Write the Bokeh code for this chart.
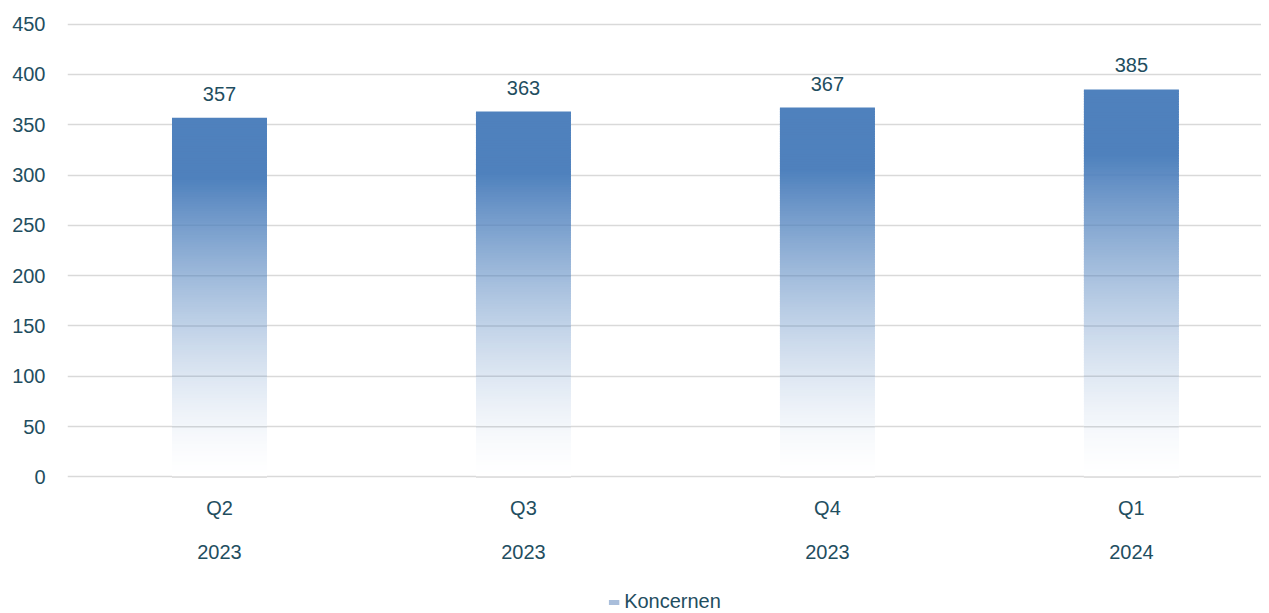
import numpy as np
from bokeh.plotting import figure
from bokeh.layouts import column
from bokeh.models import Range1d, LinearAxis, FixedTicker, Legend, LegendItem, ColumnDataSource
from bokeh.embed import file_html
from bokeh.resources import INLINE
from bokeh.core.properties import value

quarters = ["Q2", "Q3", "Q4", "Q1"]
years = ["2023", "2023", "2023", "2024"]
values = [357, 363, 367, 385]
series_name = "Koncernen"
y_ticks = list(range(0, 451, 50))

FONT = "Liberation Sans"
TXT = "#1f4e5f"
BLUE = (79, 129, 189)
GRID = (217, 217, 217)
FS = "20px"


def blend(c, bg, a):
    return "#%02x%02x%02x" % tuple(int(round(a * ci + (1 - a) * bi)) for ci, bi in zip(c, bg))


def opacity(t):
    return min(1.0, max(0.0, t) / 0.83) ** 1.5


p = figure(width=1261, height=570, output_backend="svg", toolbar_location=None,
           x_range=Range1d(-0.5, 3.428), y_range=Range1d(-1.5, 451.5),
           min_border_left=67, min_border_right=0, min_border_top=22, min_border_bottom=92,
           outline_line_color=None, background_fill_color="white", border_fill_color="white",
           x_axis_location=None)

p.xgrid.grid_line_color = None
p.ygrid.grid_line_color = "#d9d9d9"
p.ygrid.grid_line_width = 1.5
p.ygrid.ticker = FixedTicker(ticks=y_ticks)

ya = p.yaxis[0]
ya.ticker = FixedTicker(ticks=y_ticks)
ya.axis_line_color = None
ya.major_tick_line_color = None
ya.minor_tick_line_color = None
ya.major_tick_out = 0
ya.major_tick_in = 0
ya.major_label_text_font = FONT
ya.major_label_text_font_size = FS
ya.major_label_text_color = TXT
ya.major_label_standoff = 22

xs = list(range(len(values)))
for lab, stand in ((quarters, 18), (years, 23)):
    ax = LinearAxis(ticker=FixedTicker(ticks=xs),
                    major_label_overrides={i: l for i, l in enumerate(lab)})
    ax.axis_line_color = None
    ax.major_tick_line_color = None
    ax.minor_tick_line_color = None
    ax.major_tick_out = 0
    ax.major_tick_in = 0
    ax.major_label_text_font = FONT
    ax.major_label_text_font_size = FS
    ax.major_label_text_color = TXT
    ax.major_label_standoff = stand
    p.add_layout(ax, "below")

# gradient bars drawn as thin opaque slices (colour = blue faded over white)
bw = 0.3125
n = 150
L, R, B, T, C = [], [], [], [], []
gx0, gx1, gy, gc = [], [], [], []
for i, v in enumerate(values):
    edges = np.linspace(0, v, n + 1)
    for k in range(n):
        t = (edges[k] + edges[k + 1]) / 2 / v
        L.append(i - bw / 2); R.append(i + bw / 2)
        B.append(edges[k]); T.append(min(v, edges[k + 1] + v / n * 0.6))
        C.append(blend(BLUE, (255, 255, 255), opacity(t)))
    # grid lines seen through the translucent part of the bar
    for yt in y_ticks:
        if yt <= v:
            a = opacity(yt / v)
            if a < 0.97:
                gx0.append(i - bw / 2); gx1.append(i + bw / 2); gy.append(yt)
                gc.append(blend(BLUE, GRID, a))
src = ColumnDataSource(dict(left=L, right=R, bottom=B, top=T, color=C))
p.quad(left="left", right="right", bottom="bottom", top="top", source=src,
       fill_color="color", line_color=None)
p.segment(x0=gx0, x1=gx1, y0=gy, y1=gy, line_color=gc, line_width=1.5)

p.text(x=xs, y=values, text=[str(v) for v in values], text_align="center",
       text_baseline="middle", y_offset=-24, text_font=value(FONT),
       text_font_size=FS, text_color=TXT)

# legend in a small figure below
lf = figure(width=1261, height=43, output_backend="svg", toolbar_location=None,
            x_range=Range1d(0, 1), y_range=Range1d(0, 1), min_border=0,
            outline_line_color=None, x_axis_location=None, y_axis_location=None)
lf.grid.grid_line_color = None
leg_r = lf.quad(left=[2], right=[3], bottom=[2], top=[3], fill_color="#a9bedb", line_color=None)
legend = Legend(items=[LegendItem(label=series_name, renderers=[leg_r])],
                location="bottom_center", orientation="horizontal",
                label_text_font=FONT, label_text_font_size=FS, label_text_color=TXT,
                glyph_width=13, glyph_height=6, label_standoff=4, padding=0, margin=0,
                border_line_color=None, background_fill_alpha=0, spacing=0,
                label_height=18)
lf.add_layout(legend)

open("out.html", "w").write(file_html(column(p, lf, spacing=0), INLINE))
